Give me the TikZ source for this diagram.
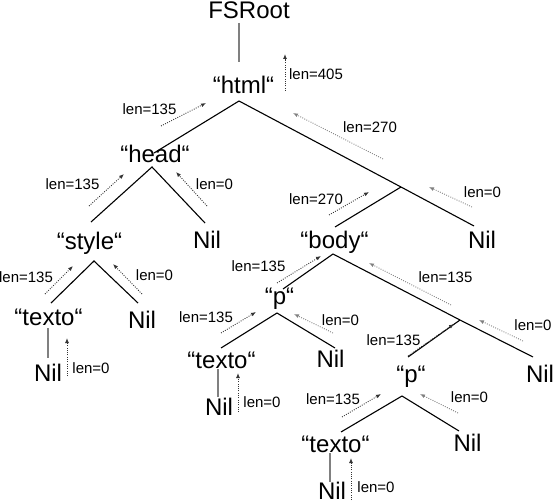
\documentclass[tikz,border=0pt]{standalone}
\usepackage{fontspec}
\setmainfont{Liberation Sans}
\usetikzlibrary{arrows.meta}
\begin{document}
\begin{tikzpicture}[x=1pt,y=-1pt,
  bigtext/.style={font=\fontsize{24}{28}\selectfont, anchor=base, inner sep=0pt},
  lentext/.style={font=\fontsize{15}{18}\selectfont, anchor=base, inner sep=0pt},
  treeline/.style={line width=1.1pt, black},
  stemline/.style={line width=1.4pt, black!50},
  upflow/.style={dash pattern=on 0.9pt off 1.4pt, line width=0.9pt, black!80, -{Latex[length=5pt,width=4pt]}},
  upflowlight/.style={upflow, black!50}]
\useasboundingbox (0,0) rectangle (553,500);

% ---- node texts ----
\node[bigtext] (root)   at (249,18.5) {FSRoot};
\node[bigtext] (html)   at (243.5,94) {“html“};
\node[bigtext] (head)   at (155,162) {“head“};
\node[bigtext] (style)  at (89.5,249) {“style“};
\node[bigtext] (nilA)   at (207,248) {Nil};
\node[bigtext] (body)   at (334.5,248) {“body“};
\node[bigtext] (nilB)   at (482,248) {Nil};
\node[bigtext] (textoA) at (48.5,325) {“texto“};
\node[bigtext] (nilC)   at (142,328) {Nil};
\node[bigtext] (nilD)   at (48,381)  {Nil};
\node[bigtext] (pA)     at (279.5,304) {“p“};
\node[bigtext] (textoB) at (221.5,368) {“texto“};
\node[bigtext] (nilE)   at (330.5,367) {Nil};
\node[bigtext] (nilF)   at (219,415) {Nil};
\node[bigtext] (nilG)   at (540,382) {Nil};
\node[bigtext] (pB)     at (411,382) {“p“};
\node[bigtext] (textoC) at (335.5,452) {“texto“};
\node[bigtext] (nilH)   at (467.5,451) {Nil};
\node[bigtext] (nilI)   at (332,499.5) {Nil};

% ---- branch points ----
\coordinate (rootB)   at (239,23);
\coordinate (htmlT)   at (239,62);
\coordinate (htmlB)   at (239,101);
\coordinate (headT)   at (154,153);
\coordinate (j1)      at (401,187);
\coordinate (nilBT)   at (474,226);
\coordinate (bodyT)   at (335,227);
\coordinate (headB)   at (152,167);
\coordinate (styleT)  at (91,222);
\coordinate (nilAT)   at (205,223);
\coordinate (styleB)  at (94,261);
\coordinate (textoAT) at (51,303);
\coordinate (nilCT)   at (138,303);
\coordinate (textoAB) at (48,328);
\coordinate (nilDT)   at (48,358);
\coordinate (bodyB)   at (333,254);
\coordinate (pAT)     at (283,289);
\coordinate (j2)      at (460,320);
\coordinate (nilGT)   at (533,357);
\coordinate (pBT)     at (408,357);
\coordinate (pAB)     at (277,313);
\coordinate (textoBT) at (221,348);
\coordinate (nilET)   at (335,348);
\coordinate (textoBB) at (218,369);
\coordinate (nilFT)   at (218,397);
\coordinate (pBB)     at (402,396);
\coordinate (textoCT) at (341,432);
\coordinate (nilHT)   at (459,431);
\coordinate (textoCB) at (330,453);
\coordinate (nilIT)   at (330,482);

% ---- tree edges ----
\draw[stemline] (rootB) -- (htmlT);
\draw[treeline] (headT) -- (htmlB) -- (j1) -- (nilBT);
\draw[treeline] (j1) -- (bodyT);
\draw[treeline] (styleT) -- (headB) -- (nilAT);
\draw[treeline] (textoAT) -- (styleB) -- (nilCT);
\draw[stemline] (textoAB) -- (nilDT);
\draw[treeline] (pAT) -- (bodyB) -- (j2) -- (nilGT);
\draw[treeline] (j2) -- (pBT);
\draw[treeline] (textoBT) -- (pAB) -- (nilET);
\draw[stemline] (textoBB) -- (nilFT);
\draw[treeline] (textoCT) -- (pBB) -- (nilHT);
\draw[stemline] (textoCB) -- (nilIT);

% ---- length flow arrows ----
\coordinate (f1a) at (285,91);   \coordinate (f1b) at (285,54);
\coordinate (f2a) at (161,126);  \coordinate (f2b) at (206,103);
\coordinate (f3a) at (383,159);  \coordinate (f3b) at (293,113);
\coordinate (f4a) at (89,206);   \coordinate (f4b) at (124,174);
\coordinate (f5a) at (207,206);  \coordinate (f5b) at (176,172);
\coordinate (f6a) at (329,215);  \coordinate (f6b) at (369,192);
\coordinate (f7a) at (472,207);  \coordinate (f7b) at (429,187);
\coordinate (f8a) at (45,294);   \coordinate (f8b) at (73,266);
\coordinate (f9a) at (142,294);  \coordinate (f9b) at (113,264);
\coordinate (f10a) at (67,376);  \coordinate (f10b) at (67,338);
\coordinate (f11a) at (277,283); \coordinate (f11b) at (321,256);
\coordinate (f12a) at (451,305); \coordinate (f12b) at (369,263);
\coordinate (f13a) at (221,333); \coordinate (f13b) at (256,312);
\coordinate (f14a) at (333,333); \coordinate (f14b) at (294,314);
\coordinate (f15a) at (523,341); \coordinate (f15b) at (479,320);
\coordinate (f16a) at (408,356); \coordinate (f16b) at (454,324);
\coordinate (f17a) at (238,412); \coordinate (f17b) at (238,373);
\coordinate (f18a) at (342,417); \coordinate (f18b) at (381,394);
\coordinate (f19a) at (458,413); \coordinate (f19b) at (420,394);
\coordinate (f20a) at (351,500); \coordinate (f20b) at (351,458);

\draw[upflow] (f1a) -- (f1b);
\draw[upflow] (f2a) -- (f2b);
\draw[upflowlight] (f3a) -- (f3b);
\draw[upflow] (f4a) -- (f4b);
\draw[upflow] (f5a) -- (f5b);
\draw[upflow] (f6a) -- (f6b);
\draw[upflowlight] (f7a) -- (f7b);
\draw[upflow] (f8a) -- (f8b);
\draw[upflow] (f9a) -- (f9b);
\draw[upflow] (f10a) -- (f10b);
\draw[upflow] (f11a) -- (f11b);
\draw[upflowlight] (f12a) -- (f12b);
\draw[upflow] (f13a) -- (f13b);
\draw[upflowlight] (f14a) -- (f14b);
\draw[upflowlight] (f15a) -- (f15b);
\draw[upflow] (f16a) -- (f16b);
\draw[upflow] (f17a) -- (f17b);
\draw[upflow] (f18a) -- (f18b);
\draw[upflowlight] (f19a) -- (f19b);
\draw[upflow] (f20a) -- (f20b);

% ---- length labels ----
\node[lentext] (l1)  at (316,79.5)  {len=405};
\node[lentext] (l2)  at (149.5,114.5) {len=135};
\node[lentext] (l3)  at (370,132.5) {len=270};
\node[lentext] (l4)  at (72.5,189.5) {len=135};
\node[lentext] (l5)  at (214.5,189.5) {len=0};
\node[lentext] (l6)  at (316,204.5) {len=270};
\node[lentext] (l7)  at (482.5,197.5) {len=0};
\node[lentext] (l8)  at (26,282.5)  {len=135};
\node[lentext] (l9)  at (154.5,280.5) {len=0};
\node[lentext] (l10) at (91,373.5)  {len=0};
\node[lentext] (l11) at (258.5,271.5) {len=135};
\node[lentext] (l12) at (445.5,282.5) {len=135};
\node[lentext] (l13) at (206,322)   {len=135};
\node[lentext] (l14) at (340.5,325.5) {len=0};
\node[lentext] (l15) at (533,330.5) {len=0};
\node[lentext] (l16) at (393.5,345.5) {len=135};
\node[lentext] (l17) at (262,407.5) {len=0};
\node[lentext] (l18) at (333,404.5) {len=135};
\node[lentext] (l19) at (469.5,402.5) {len=0};
\node[lentext] (l20) at (376,492.5) {len=0};
\end{tikzpicture}
\end{document}
